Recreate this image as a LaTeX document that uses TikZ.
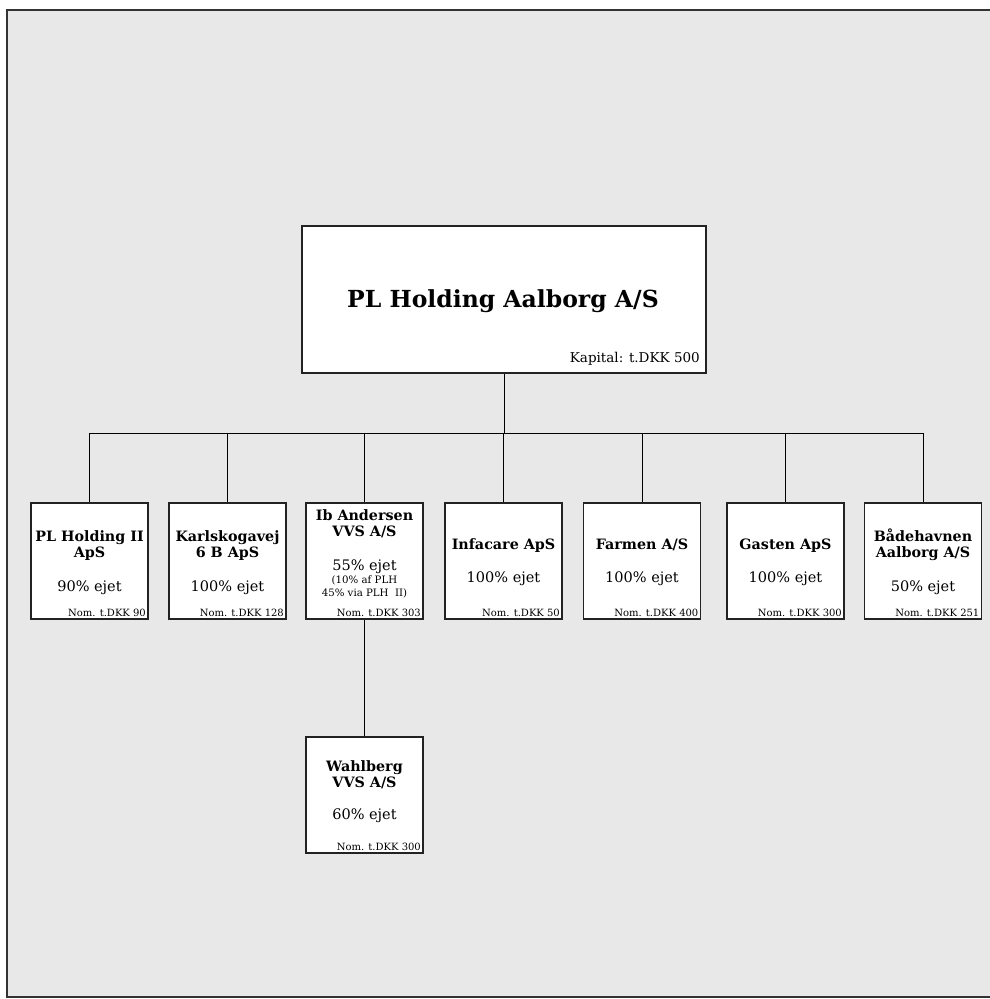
\documentclass[tikz,border=0pt]{standalone}
\usepackage{fontspec}
\setmainfont{DejaVu Serif}
\usetikzlibrary{positioning}
\definecolor{paper}{HTML}{E8E8E8}
\definecolor{rand}{HTML}{222222}

\begin{document}
\begin{tikzpicture}[x=1pt, y=-1pt,
    firma/.style={draw=rand, line width=1.1pt, fill=white, minimum width=117pt, minimum height=116pt, inner sep=0pt},
    navn/.style={font=\fontsize{14.3}{16}\selectfont\bfseries, align=center, anchor=base, inner sep=0pt},
    andel/.style={font=\fontsize{14.5}{16}\selectfont, anchor=base, inner sep=0pt},
    note/.style={font=\fontsize{10.2}{13}\selectfont, anchor=base, inner sep=0pt},
    nom/.style={font=\fontsize{10}{11}\selectfont, anchor=south east, inner sep=2.5pt},
    link/.style={line width=1pt},
    ]
    \useasboundingbox (0,0) rectangle (990,999);
    %frame
    \fill[paper] (7,10) rectangle (990,997);
    \draw[line width=1.2pt, black!80] (990,10) -- (7,10) -- (7,997) -- (990,997);

    %top
    \node[firma, minimum width=404pt, minimum height=147pt] at (504,299.5) (top) {};
    \node[font=\fontsize{23.5}{26}\selectfont\bfseries, anchor=base, inner sep=0pt] at (503,307) (titel) {PL Holding Aalborg A/S};
    \node[font=\fontsize{13.5}{15}\selectfont, anchor=base east, inner sep=0pt] at (700,362) (kap) {Kapital: t.DKK 500};

    %boxes
    \node[firma] at (89.5,561) (b1) {};
    \node[firma] at (227.5,561) (b2) {};
    \node[firma] at (364.5,561) (b3) {};
    \node[firma] at (503.5,561) (b4) {};
    \node[firma] at (642,561) (b5) {};
    \node[firma] at (785.5,561) (b6) {};
    \node[firma] at (923,561) (b7) {};
    \node[firma] at (364.5,795) (b8) {};

    %names (base = last line)
    \node[navn] at (89.5,557) (n1) {PL Holding II\\ApS};
    \node[navn] at (227.5,557) (n2) {Karlskogavej\\6 B ApS};
    \node[navn] at (364.5,536) (n3) {Ib Andersen\\VVS A/S};
    \node[navn] at (503.5,549) (n4) {Infacare ApS};
    \node[navn] at (642,549) (n5) {Farmen A/S};
    \node[navn] at (785.5,549) (n6) {Gasten ApS};
    \node[navn] at (923,557) (n7) {Bådehavnen\\Aalborg A/S};
    \node[navn] at (364.5,787) (n8) {Wahlberg\\VVS A/S};

    %shares
    \node[andel] at (89.5,591) (p1) {90\% ejet};
    \node[andel] at (227.5,591) (p2) {100\% ejet};
    \node[andel] at (364.5,570) (p3) {55\% ejet};
    \node[andel] at (503.5,582) (p4) {100\% ejet};
    \node[andel] at (642,582) (p5) {100\% ejet};
    \node[andel] at (785.5,582) (p6) {100\% ejet};
    \node[andel] at (923,591) (p7) {50\% ejet};
    \node[andel] at (364.5,819) (p8) {60\% ejet};
    \node[note] at (364.5,583) (s1) {(10\% af PLH};
    \node[note] at (364.5,596) (s2) {45\% via PLH\ \ II)};

    %nominal
    \node[nom] at (b1.south east) (m1) {Nom. t.DKK 90};
    \node[nom] at (b2.south east) (m2) {Nom. t.DKK 128};
    \node[nom] at (b3.south east) (m3) {Nom. t.DKK 303};
    \node[nom] at (b4.south east) (m4) {Nom. t.DKK 50};
    \node[nom] at (b5.south east) (m5) {Nom. t.DKK 400};
    \node[nom] at (b6.south east) (m6) {Nom. t.DKK 300};
    \node[nom] at (b7.south east) (m7) {Nom. t.DKK 251};
    \node[nom] at (b8.south east) (m8) {Nom. t.DKK 300};

    %lines
    \coordinate (bus) at (503,433);
    \draw[link] (top.south) -- (top.south |- bus);
    \draw[link] (b1.north) -- (b1.north |- bus) -- (b7.north |- bus) -- (b7.north);
    \foreach \i in {2,...,6}
        \draw[link] (b\i.north) -- (b\i.north |- bus);
    \draw[link] (b3.south) -- (b8.north);
\end{tikzpicture}
\end{document}
